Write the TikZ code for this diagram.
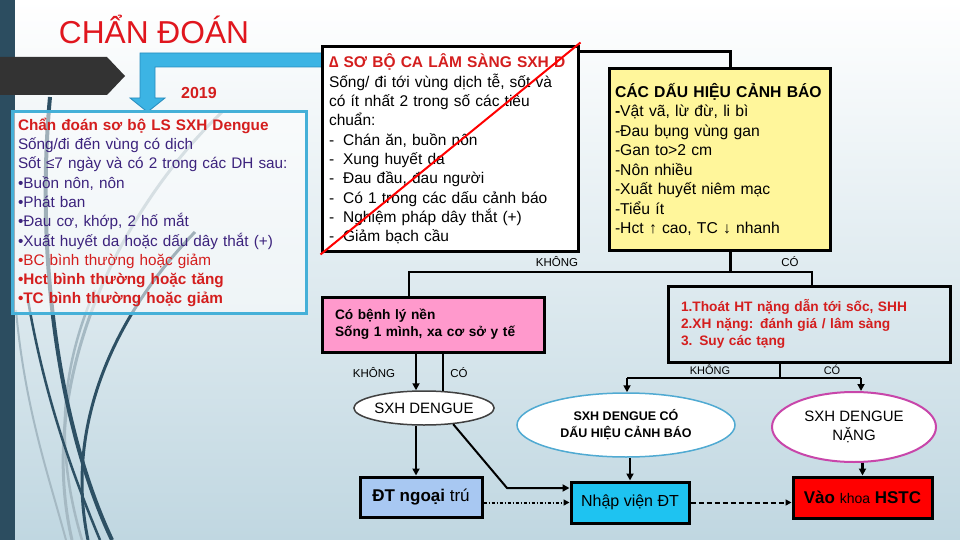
\documentclass[tikz,border=0pt]{standalone}
\usepackage{fontspec}
\setmainfont{Liberation Sans}
\usetikzlibrary{arrows.meta,shapes.geometric,calc}

\definecolor{titlered}{RGB}{224,22,30}
\definecolor{txtred}{RGB}{212,30,30}
\definecolor{purp}{RGB}{60,35,125}
\definecolor{stripe}{RGB}{44,77,96}
\definecolor{cyanb}{RGB}{69,176,216}
\definecolor{arrowblue}{RGB}{60,180,228}
\definecolor{arrowblueD}{RGB}{40,140,190}
\definecolor{bgbot}{RGB}{192,215,225}
\definecolor{yel}{RGB}{255,246,155}
\definecolor{pinkf}{RGB}{255,153,204}
\definecolor{lblue}{RGB}{168,200,242}
\definecolor{cyanf}{RGB}{30,195,241}
\definecolor{ellblue}{RGB}{80,170,210}
\definecolor{ellmag}{RGB}{200,70,170}
\definecolor{curvedark}{RGB}{45,80,100}
\definecolor{curvegray}{RGB}{165,185,195}
\definecolor{darkbar}{RGB}{51,51,51}

\begin{document}
\begin{tikzpicture}[x=1pt,y=-1pt,
  box/.style={draw=black,line width=3pt,rectangle,inner sep=0pt},
  conn/.style={line width=2.5pt,black},
  arr/.style={conn,-{Triangle[length=7pt,width=7pt]}},
  lab/.style={font=\fontsize{11.5}{13}\selectfont,inner sep=0pt},
  ell/.style={ellipse,fill=white,inner sep=0pt,align=center},
]
\useasboundingbox (0,0) rectangle (960,540);
\shade[top color=white,bottom color=bgbot] (0,0) rectangle (960,540);
\fill[stripe] (0,0) rectangle (15,540);

% decorative curves
\draw[curvegray,line width=3pt] (222,112) .. controls (120,210) and (35,380) .. (72,540);
\draw[curvegray,line width=2.5pt] (95,290) .. controls (60,370) and (55,450) .. (82,540);
\draw[curvegray,line width=2pt] (16,310) .. controls (25,410) and (50,480) .. (66,540);
\draw[curvedark,line width=4pt] (50,97) .. controls (35,260) and (60,430) .. (112,540);
\draw[curvedark,line width=3pt] (195,232) .. controls (110,320) and (65,430) .. (88,540);
\draw[curvedark,line width=2.5pt] (28,300) .. controls (45,400) and (75,480) .. (100,540);

% dark bar
\fill[darkbar] (0,57) -- (107,57) -- (125,76) -- (107,95) -- (0,95) -- cycle;

% title
\node[text=titlered,font=\fontsize{31.7}{36}\selectfont,inner sep=0pt] (title) at (154,29) {CHẨN ĐOÁN};

% blue bent arrow
\filldraw[fill=arrowblue,draw=arrowblueD,line width=0.8pt]
  (338,53) -- (140,53) -- (140,98) -- (130,98) -- (147.5,112) -- (165,98) -- (155,98) -- (155,67) -- (338,67) -- cycle;

\node[text=txtred,font=\fontsize{16}{18}\selectfont\bfseries,inner sep=0pt] (y2019) at (199,93) {2019};

% left box
\node[draw=cyanb,line width=3pt,fill=white,fill opacity=0.55,text opacity=1,
      minimum width=294pt,minimum height=201pt,text width=282pt,align=left,inner sep=0pt,
      font=\fontsize{15.3}{19.3}\selectfont] (diag) at (159,212.5) {%
\textcolor{txtred}{\textbf{Chẩn đoán sơ bộ LS SXH Dengue}}\\
\textcolor{purp}{Sống/đi đến vùng có dịch}\\
\textcolor{purp}{Sốt ≤7 ngày và có 2 trong các DH sau:}\\
\textcolor{purp}{•Buồn nôn, nôn}\\
\textcolor{purp}{•Phát ban}\\
\textcolor{purp}{•Đau cơ, khớp, 2 hố mắt}\\
\textcolor{purp}{•Xuất huyết da hoặc dấu dây thắt (+)}\\
\textcolor{txtred}{•BC bình thường hoặc giảm}\\
\textcolor{txtred}{\textbf{•Hct bình thường hoặc tăng}}\\
\textcolor{txtred}{\textbf{•TC bình thường hoặc giảm}}};

% top middle box
\node[box,fill=white,minimum width=256pt,minimum height=204pt,text width=242pt,align=left,
      font=\fontsize{15.5}{19.3}\selectfont] (sobo) at (450,149) {%
\textcolor{txtred}{\textbf{∆ SƠ BỘ CA LÂM SÀNG SXH D}}\\
Sống/ đi tới vùng dịch tễ, sốt và\\
có ít nhất 2 trong số các tiêu\\
chuẩn:\\
-\hspace{9pt}Chán ăn, buồn nôn\\
-\hspace{9pt}Xung huyết da\\
-\hspace{9pt}Đau đầu, đau người\\
-\hspace{9pt}Có 1 trong các dấu cảnh báo\\
-\hspace{9pt}Nghiệm pháp dây thắt (+)\\
-\hspace{9pt}Giảm bạch cầu};
\draw[red,line width=2pt] ($(sobo.south west)+(0,2)$) -- ($(sobo.north east)+(1,-3)$);

% warning signs box
\node[box,fill=yel,minimum width=221pt,minimum height=181pt,text width=209pt,align=left,
      font=\fontsize{15.7}{19.5}\selectfont] (canhbao) at (719.5,159.5) {%
\textbf{CÁC DẤU HIỆU CẢNH BÁO}\\
\textbf{-}Vật vã, lừ đừ, li bì\\
-Đau bụng vùng gan\\
-Gan to>2 cm\\
-Nôn nhiều\\
-Xuất huyết niêm mạc\\
-Tiểu ít\\
-Hct ↑ cao, TC ↓ nhanh};

% pink box
\node[box,fill=pinkf,minimum width=222pt,minimum height=55pt,text width=196pt,align=left,
      font=\fontsize{13.7}{17}\selectfont\bfseries] (benh) at (433,324.5) {%
Có bệnh lý nền\\
Sống 1 mình, xa cơ sở y tế};

% severe criteria box
\node[box,minimum width=282pt,minimum height=76pt,text width=256pt,align=left,
      font=\fontsize{13.7}{17}\selectfont\bfseries,text=txtred] (nang) at (809,324) {%
1.Thoát HT nặng dẫn tới sốc, SHH\\
2.XH nặng: đánh giá / lâm sàng\\
3. Suy các tạng};

% ellipses
\node[ell,draw=black!75,line width=1.5pt,minimum width=124pt,minimum height=34pt,
      font=\fontsize{15}{17}\selectfont] (e1) at (424,408) {SXH DENGUE};
\node[ell,draw=ellblue,line width=1.5pt,minimum width=218pt,minimum height=64pt,
      font=\fontsize{12.5}{17}\selectfont\bfseries] (e2) at (626,425) {SXH DENGUE CÓ\\DẤU HIỆU CẢNH BÁO};
\node[ell,draw=ellmag,line width=2pt,minimum width=164pt,minimum height=70pt,
      font=\fontsize{15}{19}\selectfont] (e3) at (854,427) {SXH DENGUE\\NẶNG};

% bottom boxes
\node[box,fill=lblue,minimum width=122pt,minimum height=40pt,
      font=\fontsize{17}{18}\selectfont] (ngoai) at (421,497) {\textbf{ĐT ngoại} trú};
\node[box,fill=cyanf,minimum width=118pt,minimum height=41pt,
      font=\fontsize{16}{18}\selectfont] (nhap) at (630,502.5) {Nhập viện ĐT};
\node[box,fill=red,minimum width=139pt,minimum height=41pt,
      font=\fontsize{17}{18}\selectfont] (hstc) at (862.5,497.5) {\textbf{Vào} {\fontsize{14}{18}\selectfont khoa} \textbf{HSTC}};

% connectors top
\draw[conn] ($(sobo.north east)+(0,6)$) -| ($(canhbao.north)+(11,0)$);
\coordinate (cbS) at ($(canhbao.south)+(11,0)$);
\coordinate (jL) at (409,272);
\coordinate (jR) at (812,272);
\draw[conn] (cbS) -- (cbS |- jL);
\draw[conn] (benh.north -| jL) -- (jL) -- (jR) -- (nang.north -| jR);
\node[lab] (lk1) at (557,262) {KHÔNG};
\node[lab] (lc1) at (790,262) {CÓ};

% from pink box
\coordinate (pA) at (416,0);
\coordinate (pB) at (443,0);
\draw[arr] (benh.south -| pA) -- (e1.north -| pA);
\draw[conn] (benh.south -| pB) -- ($(e1.north -| pB)+(0,1)$);
\node[lab] (lk2) at (374,373) {KHÔNG};
\node[lab] (lc2) at (459,373) {CÓ};

% from severe box
\coordinate (nB) at (780,378);
\coordinate (kL) at (627,378);
\coordinate (kR) at (861,378);
\draw[conn] (nang.south -| nB) -- (nB);
\draw[conn] (kL) -- (kR);
\draw[arr] (kL) -- (kL |- e2.north);
\draw[arr] (kR) -- (kR |- e3.north);
\node[lab,font=\fontsize{11}{12}\selectfont] (lk3) at (710,370) {KHÔNG};
\node[lab,font=\fontsize{11}{12}\selectfont] (lc3) at (832,370) {CÓ};

% lower arrows
\draw[arr] (e1.south -| pA) -- (ngoai.north -| pA);
\coordinate (bend) at (507,488);
\draw[arr,line width=2pt] (e1.-29) -- (bend) -- (bend -| nhap.west);
\draw[arr] (nhap.north |- e2.south) -- (nhap.north);
\draw[arr] (hstc.north |- e3.south) -- (hstc.north);
\draw[line width=2pt,dash pattern=on 3pt off 2pt on 1pt off 2pt,-{Triangle[length=6pt,width=6pt]}]
  (ngoai.east |- nhap.center) -- (nhap.west);
\draw[line width=2pt,dash pattern=on 5pt off 3pt,-{Triangle[length=6pt,width=6pt]}]
  (nhap.east) -- (nhap.east -| hstc.west);
\end{tikzpicture}
\end{document}
